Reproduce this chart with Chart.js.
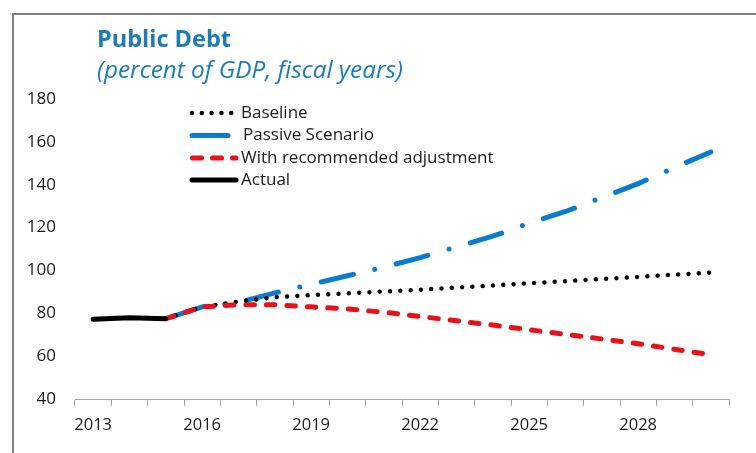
<!DOCTYPE html>
<html>
<head>
<meta charset="utf-8">
<script src="https://cdn.jsdelivr.net/npm/chart.js@4"></script>
<style>
  html, body { margin: 0; padding: 0; background: #ffffff; }
  #wrap { position: relative; width: 756px; height: 453px; overflow: hidden; }
  #frame { position: absolute; left: 12px; top: 13px; width: 800px; height: 500px;
           border-top: 2px solid #7f7f7f; border-left: 2px solid #7f7f7f; pointer-events: none; }
  canvas { position: absolute; left: 0; top: 0; }
</style>
</head>
<body>
<div id="wrap">
  <canvas id="c" width="756" height="453"></canvas>
  <div id="frame"></div>
</div>
<script>
// ---- data ----
const years = ['2013','2014','2015','2016','2017','2018','2019','2020','2021','2022','2023','2024','2025','2026','2027','2028','2029','2030'];
const baseline = [null, null, 77.5, 83, 85.5, 87.5, 88.5, 89.3, 90.2, 91, 92, 93, 94, 95, 96, 97, 98, 99];
const passive  = [null, null, 77.5, 83, 85, 89.5, 93.5, 97.5, 101.5, 106, 111, 116, 122, 127.5, 134, 140.5, 148, 155.3];
const adjusted = [null, null, 77.5, 83, 84, 84, 83, 82, 80.5, 78.5, 76.5, 74.5, 72.3, 70.2, 68, 65.8, 63.2, 60.6];
const actual   = [77.2, 77.9, 77.5, null, null, null, null, null, null, null, null, null, null, null, null, null, null, null];
const seriesNames = ['Baseline', 'Passive Scenario', 'With recommended adjustment', 'Actual'];
const yTicks = [40, 60, 80, 100, 120, 140, 160, 180];
const labelYears = ['2013','2016','2019','2022','2025','2028'];
const titleText = 'Public Debt';
const subtitleText = '(percent of GDP, fiscal years)';

const FONT = "'Open Sans', 'Noto Sans', sans-serif";
const BLUE = '#0b7bcf';
const RED = '#e8111a';
const BLACK = '#000000';

const headerPlugin = {
  id: 'header',
  afterDraw(chart) {
    const ctx = chart.ctx;
    ctx.save();
    ctx.fillStyle = '#1b7cb6';
    ctx.textBaseline = 'alphabetic';
    ctx.textAlign = 'left';
    ctx.font = "bold 23.5px " + FONT;
    ctx.fillText(titleText, 97, 47);
    ctx.font = "italic 24.3px " + FONT;
    ctx.fillText(subtitleText, 97, 78);

    // legend
    const rows = [
      { name: seriesNames[0], color: BLACK, width: 4.5, dash: [0.01, 9.8], cap: 'round', x1: 192, x2: 236 },
      { name: seriesNames[1], color: BLUE, width: 5, dash: [], cap: 'round', x1: 192, x2: 228 },
      { name: seriesNames[2], color: RED, width: 5, dash: [9, 11], cap: 'round', x1: 192.5, x2: 236 },
      { name: seriesNames[3], color: BLACK, width: 5, dash: [], cap: 'round', x1: 192, x2: 236 }
    ];
    const ys = [113, 135.5, 158, 180];
    rows.forEach((r, i) => {
      ctx.beginPath();
      ctx.strokeStyle = r.color;
      ctx.lineWidth = r.width;
      ctx.lineCap = r.cap;
      ctx.setLineDash(r.dash);
      ctx.moveTo(r.x1, ys[i]);
      ctx.lineTo(r.x2, ys[i]);
      ctx.stroke();
      ctx.setLineDash([]);
      ctx.fillStyle = '#1a1a1a';
      ctx.font = "17px " + FONT;
      ctx.textBaseline = 'middle';
      ctx.fillText(r.name, i === 1 ? 243 : 241, ys[i]);
    });
    ctx.restore();
  }
};

new Chart(document.getElementById('c'), {
  type: 'line',
  data: {
    labels: years,
    datasets: [
      { label: seriesNames[0], data: baseline, borderColor: BLACK, borderWidth: 4.5,
        borderDash: [0.01, 10.3], borderCapStyle: 'round', order: 2 },
      { label: seriesNames[1], data: passive, borderColor: BLUE, borderWidth: 5,
        borderDash: [33, 22, 0.01, 22], borderDashOffset: 71, borderCapStyle: 'round', order: 3 },
      { label: seriesNames[2], data: adjusted, borderColor: RED, borderWidth: 5,
        borderDash: [8.5, 12], borderCapStyle: 'round', order: 1 },
      { label: seriesNames[3], data: actual, borderColor: BLACK, borderWidth: 5,
        borderCapStyle: 'round', order: 0 }
    ]
  },
  options: {
    responsive: false,
    devicePixelRatio: 1,
    animation: false,
    events: [],
    elements: { point: { radius: 0 }, line: { tension: 0, fill: false } },
    layout: { padding: { left: 0, right: 27, top: 99, bottom: 0 } },
    plugins: { legend: { display: false }, tooltip: { enabled: false }, title: { display: false } },
    scales: {
      x: {
        type: 'category',
        offset: true,
        grid: { display: true, drawOnChartArea: false, drawTicks: true, tickLength: 7,
                offset: true, color: '#a6a6a6', lineWidth: 1 },
        border: { display: true, color: '#a6a6a6', width: 1 },
        ticks: {
          autoSkip: false, maxRotation: 0, padding: 9, color: '#1a1a1a',
          font: { family: FONT, size: 16.5 },
          callback: function(v) { const l = this.getLabelForValue(v); return labelYears.includes(l) ? l : ''; }
        },
        afterFit(s) { s.height = 54; }
      },
      y: {
        min: 40, max: 180,
        grid: { display: false, drawTicks: false },
        border: { display: false },
        afterBuildTicks(s) { s.ticks = yTicks.map(v => ({ value: v })); },
        ticks: { padding: 19, color: '#1a1a1a', font: { family: FONT, size: 17 } },
        afterFit(s) { s.width = 75; }
      }
    }
  },
  plugins: [headerPlugin]
});
</script>
</body>
</html>
